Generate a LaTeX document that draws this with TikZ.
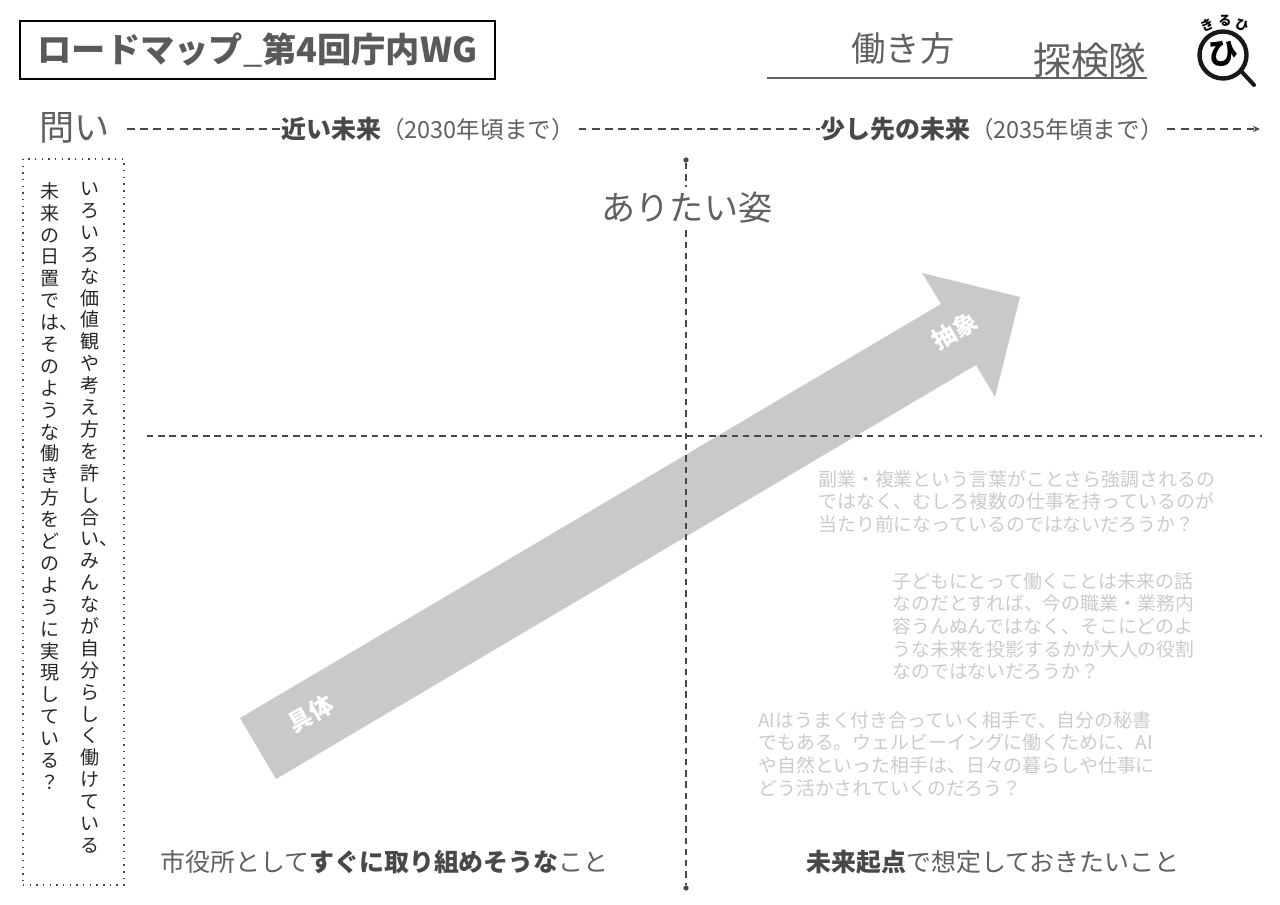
\documentclass[tikz,border=0pt]{standalone}
\usepackage{fontspec}
\setmainfont{Noto Sans CJK JP}
\usetikzlibrary{arrows.meta}
\definecolor{inkdark}{HTML}{484848}
\definecolor{inkmid}{HTML}{606060}
\definecolor{inkpale}{HTML}{CBCBCB}
\definecolor{arrowgray}{HTML}{C9C9C9}
\newcommand{\sz}[1]{\fontsize{#1}{#1}\selectfont}
\tikzset{
  label/.style={inner sep=0pt, text=inkmid},
  boldlabel/.style={label, text=inkdark, font=\sz{14.2}},
  note/.style={inner sep=0pt, anchor=north west, align=left, text=inkpale,
    font=\fontsize{10.75}{12.9}\selectfont},
  column/.style={inner sep=0pt, anchor=north, align=center, text=black!85,
    font=\fontsize{10.8}{12.46}\selectfont},
  axisline/.style={inkdark, line width=0.85pt, dash pattern=on 4.5pt off 3pt},
  quadline/.style={inkdark, line width=0.65pt, dash pattern=on 3.6pt off 2.8pt},
  enddot/.style={circle, fill=inkdark, inner sep=0pt, minimum size=3pt},
}
\begin{document}
\begin{tikzpicture}[x=0.02cm, y=-0.02cm]
  \useasboundingbox (0,0) rectangle (1280,905);

  % Title and header
  \node[draw=black, line width=0.9pt, minimum width=475*0.02cm, minimum height=58*0.02cm, inner sep=0pt,
    text=inkdark!90, font=\sz{19.5}\bfseries] (title) at (257.5,50) {ロードマップ\textmd{\_}第4回庁内WG};
  \node[label, font=\sz{19.6}] (hatarakikata) at (903,48) {働き方};
  \node[label, font=\sz{21.5}] (tankentai) at (1090,60) {探検隊};
  \coordinate (ruleL) at (767,78);
  \coordinate (ruleR) at (1147,78);
  \draw[inkmid, line width=0.8pt] (ruleL) -- (ruleR);

  % Logo
  \coordinate (lens) at (1223,55);
  \coordinate (grip) at (1254,85);
  \draw[black!90, line width=2.5pt] (lens) circle (23.5);
  \draw[black!90, line width=2.3pt, line cap=round] (1241,71) -- (grip);
  \node[inner sep=0pt, font=\sz{17}\bfseries] (logohi) at (1223,54) {ひ};
  \node[inner sep=0pt, rotate=25, font=\sz{7.5}\bfseries] (logoa) at (1207,25) {き};
  \node[inner sep=0pt, font=\sz{7.5}\bfseries] (logob) at (1225,21) {る};
  \node[inner sep=0pt, rotate=-20, font=\sz{7.5}\bfseries] (logoc) at (1242,25) {ひ};

  % Time axis
  \coordinate (axisstart) at (127,129);
  \coordinate (axisend) at (1260,129);
  \node[label, anchor=west, font=\sz{20}] (toi) at (39,128) {問い};
  \node[label, anchor=west, font=\sz{13.4}] (near) at (281,129) {\textcolor{inkdark}{\sz{14.2}\bfseries 近い未来}（2030年頃まで）};
  \node[label, anchor=west, font=\sz{13.4}] (later) at (820,129) {\textcolor{inkdark}{\sz{14.2}\bfseries 少し先の未来}（2035年頃まで）};
  \draw[axisline] (axisstart) -- (near);
  \draw[axisline, shorten <=2] (near) -- (later);
  \draw[axisline, shorten <=2, -{Stealth[length=4pt,width=3.5pt]}] (later) -- (axisend);

  % Question column
  \node[draw=inkdark, line width=0.8pt, dash pattern=on 0.8pt off 3pt, minimum width=101*0.02cm,
    minimum height=726*0.02cm, inner sep=0pt] (toibox) at (73.5,522) {};
  \node[column] (columnA) at (90,182) {い\\ろ\\い\\ろ\\な\\価\\値\\観\\や\\考\\え\\方\\を\\許\\し\\合\\い\rlap{、}\\み\\ん\\な\\が\\自\\分\\ら\\し\\く\\働\\け\\て\\い\\る};
  \node[column] (columnB) at (50,182) {未\\来\\の\\日\\置\\で\\は\rlap{、}\\そ\\の\\よ\\う\\な\\働\\き\\方\\を\\ど\\の\\よ\\う\\に\\実\\現\\し\\て\\い\\る\\？};

  % Big arrow
  \fill[arrowgray] (240,718) -- (941,304) -- (922,273) -- (1020,297) -- (995,397) -- (976,365) -- (276,779) -- cycle;
  \node[inner sep=0pt, text=white, rotate=30, font=\sz{13.5}\bfseries] (concrete) at (311,714) {具体};
  \node[inner sep=0pt, text=white, rotate=30, font=\sz{13.5}\bfseries] (abstract) at (955,331) {抽象};

  % Quadrant lines
  \node[enddot] (vtop) at (686,160) {};
  \node[enddot] (vbot) at (686,888) {};
  \coordinate (hleft) at (147,436);
  \coordinate (hright) at (1262,436);
  \draw[quadline] (vtop) -- (vbot);
  \draw[quadline] (hleft) -- (hright);

  % Headings
  \node[label, fill=white, inner ysep=3pt, font=\sz{19.4}] (ideal) at (687,208) {ありたい姿};
  \node[boldlabel, anchor=west] (nowtask) at (160,862) {\textcolor{inkmid}{市役所として}\textbf{すぐに取り組めそうな}\textcolor{inkmid}{こと}};
  \node[boldlabel, anchor=west] (futuretask) at (806,862) {\textbf{未来起点}\textcolor{inkmid}{で想定しておきたいこと}};

  % Notes
  \node[note] (noteA) at (818,470) {副業・複業という言葉がことさら強調されるの\\ではなく、むしろ複数の仕事を持っているのが\\当たり前になっているのではないだろうか？};
  \node[note] (noteB) at (892,572) {子どもにとって働くことは未来の話\\なのだとすれば、今の職業・業務内\\容うんぬんではなく、そこにどのよ\\うな未来を投影するかが大人の役割\\なのではないだろうか？};
  \node[note] (noteC) at (758,711) {AIはうまく付き合っていく相手で、自分の秘書\\でもある。ウェルビーイングに働くために、AI\\や自然といった相手は、日々の暮らしや仕事に\\どう活かされていくのだろう？};
\end{tikzpicture}
\end{document}
